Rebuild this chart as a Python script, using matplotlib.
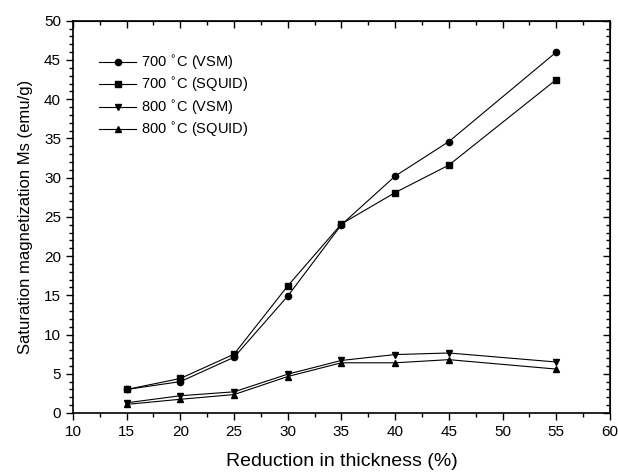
import matplotlib
matplotlib.use('Agg')
import matplotlib.pyplot as plt
from matplotlib.ticker import MultipleLocator

plt.rcParams['font.family'] = ['Liberation Sans', 'DejaVu Sans']

# Reduction in thickness (%)
reduction = [15, 20, 25, 30, 35, 40, 45, 55]
# Saturation magnetization (emu/g)
ms_700_vsm = [3.0, 4.0, 7.1, 14.9, 24.0, 30.2, 34.6, 46.0]
ms_700_squid = [3.0, 4.4, 7.5, 16.2, 24.1, 28.1, 31.6, 42.5]
ms_800_vsm = [1.3, 2.2, 2.7, 4.95, 6.7, 7.45, 7.65, 6.5]
ms_800_squid = [1.1, 1.75, 2.35, 4.65, 6.4, 6.4, 6.8, 5.6]

labels = ['700 $^{\\circ}$C (VSM)', '700 $^{\\circ}$C (SQUID)',
          '800 $^{\\circ}$C (VSM)', '800 $^{\\circ}$C (SQUID)']
markers = ['o', 's', 'v', '^']
series = [ms_700_vsm, ms_700_squid, ms_800_vsm, ms_800_squid]

fig = plt.figure(figsize=(6.18, 4.72), dpi=100)
ax = fig.add_axes([0.118, 0.125, 0.869, 0.831])

for ys, m, lab in zip(series, markers, labels):
    ax.plot(reduction, ys, color='black', lw=0.8, marker=m, ms=4.5, label=lab)

ax.set_xlim(10, 60)
ax.set_ylim(0, 50)
ax.xaxis.set_major_locator(MultipleLocator(5))
ax.xaxis.set_minor_locator(MultipleLocator(2.5))
ax.yaxis.set_major_locator(MultipleLocator(5))
ax.yaxis.set_minor_locator(MultipleLocator(1))
ax.tick_params(which='both', direction='out', labelsize=11, width=1)
ax.tick_params(which='major', length=5)
ax.tick_params(which='minor', length=3)
for s in ax.spines.values():
    s.set_linewidth(1.2)

# mirrored ticks pointing inward on top and right
top = ax.secondary_xaxis('top')
top.xaxis.set_major_locator(MultipleLocator(5))
top.xaxis.set_minor_locator(MultipleLocator(2.5))
top.tick_params(which='both', direction='in', labeltop=False, width=1)
top.tick_params(which='major', length=5)
top.tick_params(which='minor', length=3)
right = ax.secondary_yaxis('right')
right.yaxis.set_major_locator(MultipleLocator(5))
right.yaxis.set_minor_locator(MultipleLocator(1))
right.tick_params(which='both', direction='in', labelright=False, width=1)
right.tick_params(which='major', length=5)
right.tick_params(which='minor', length=3)

ax.set_xlabel('Reduction in thickness (%)', fontsize=14, labelpad=10)
ax.set_ylabel('Saturation magnetization Ms (emu/g)', fontsize=12, labelpad=8)

ax.legend(loc='upper left', bbox_to_anchor=(0.025, 0.95), frameon=False,
          fontsize=10.5, handlelength=2.5, labelspacing=0.3, handletextpad=0.35)

fig.savefig('out.png', dpi=100)
